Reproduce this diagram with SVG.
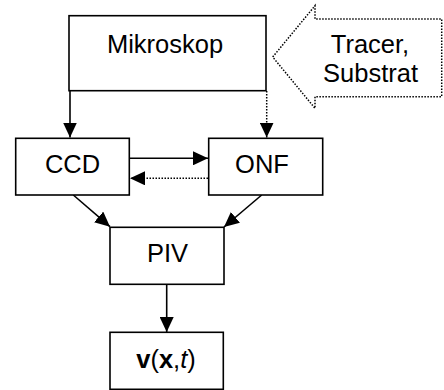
<svg xmlns="http://www.w3.org/2000/svg" width="444" height="390" viewBox="0 0 444 390">
<style>
.box{fill:#fff;stroke:#000;stroke-width:1.6}
.lbl{font-family:"Liberation Sans",Arial,sans-serif;font-size:25.5px;fill:#000;text-anchor:middle}
.ln{fill:none;stroke:#000;stroke-width:1.6}
.dot{fill:none;stroke:#000;stroke-width:1.5;stroke-dasharray:1.5 1.5}
</style>
<defs>
<marker id="ah" markerUnits="userSpaceOnUse" markerWidth="16" markerHeight="14" refX="15" refY="7" orient="auto">
<path d="M0,0 L15,7 L0,14 z" fill="#000"/>
</marker>
</defs>
<rect width="444" height="390" fill="#fff"/>
<g id="connectors">
<line class="ln" x1="70" y1="91" x2="70" y2="137.5" marker-end="url(#ah)"/>
<line class="dot" x1="266.7" y1="91" x2="266.7" y2="137.5" marker-end="url(#ah)"/>
<line class="ln" x1="130" y1="158.3" x2="208" y2="158.3" marker-end="url(#ah)"/>
<line class="dot" x1="208" y1="178.3" x2="130" y2="178.3" marker-end="url(#ah)"/>
<line class="ln" x1="73.3" y1="195" x2="110" y2="226.7" marker-end="url(#ah)"/>
<line class="ln" x1="261.7" y1="195" x2="224" y2="227" marker-end="url(#ah)"/>
<line class="ln" x1="166.7" y1="284.3" x2="166.7" y2="332" marker-end="url(#ah)"/>
</g>
<g id="tracer">
<path class="dot" d="M272.7,57 L315,5.7 L315,19 L441.7,19 L441.7,96.7 L315,96.7 L315,108.3 Z"/>
<text class="lbl" x="370" y="53.3">Tracer,</text>
<text class="lbl" x="370.5" y="81.7">Substrat</text>
</g>
<g id="mikroskop">
<rect class="box" x="69" y="15.7" width="197" height="75"/>
<text class="lbl" x="165" y="53.3">Mikroskop</text>
</g>
<g id="ccd">
<rect class="box" x="15.7" y="138.3" width="113.6" height="56.7"/>
<text class="lbl" x="72.5" y="173.3">CCD</text>
</g>
<g id="onf">
<rect class="box" x="208.7" y="138.3" width="114" height="56.7"/>
<text class="lbl" x="262" y="173.3">ONF</text>
</g>
<g id="piv">
<rect class="box" x="110" y="227.3" width="114" height="57"/>
<text class="lbl" x="167.5" y="261.7">PIV</text>
</g>
<g id="result">
<rect class="box" x="110" y="332.3" width="113.3" height="57"/>
<text class="lbl" x="166" y="368.3"><tspan font-weight="bold">v</tspan>(<tspan font-weight="bold">x</tspan>,<tspan font-style="italic">t</tspan>)</text>
</g>
</svg>
